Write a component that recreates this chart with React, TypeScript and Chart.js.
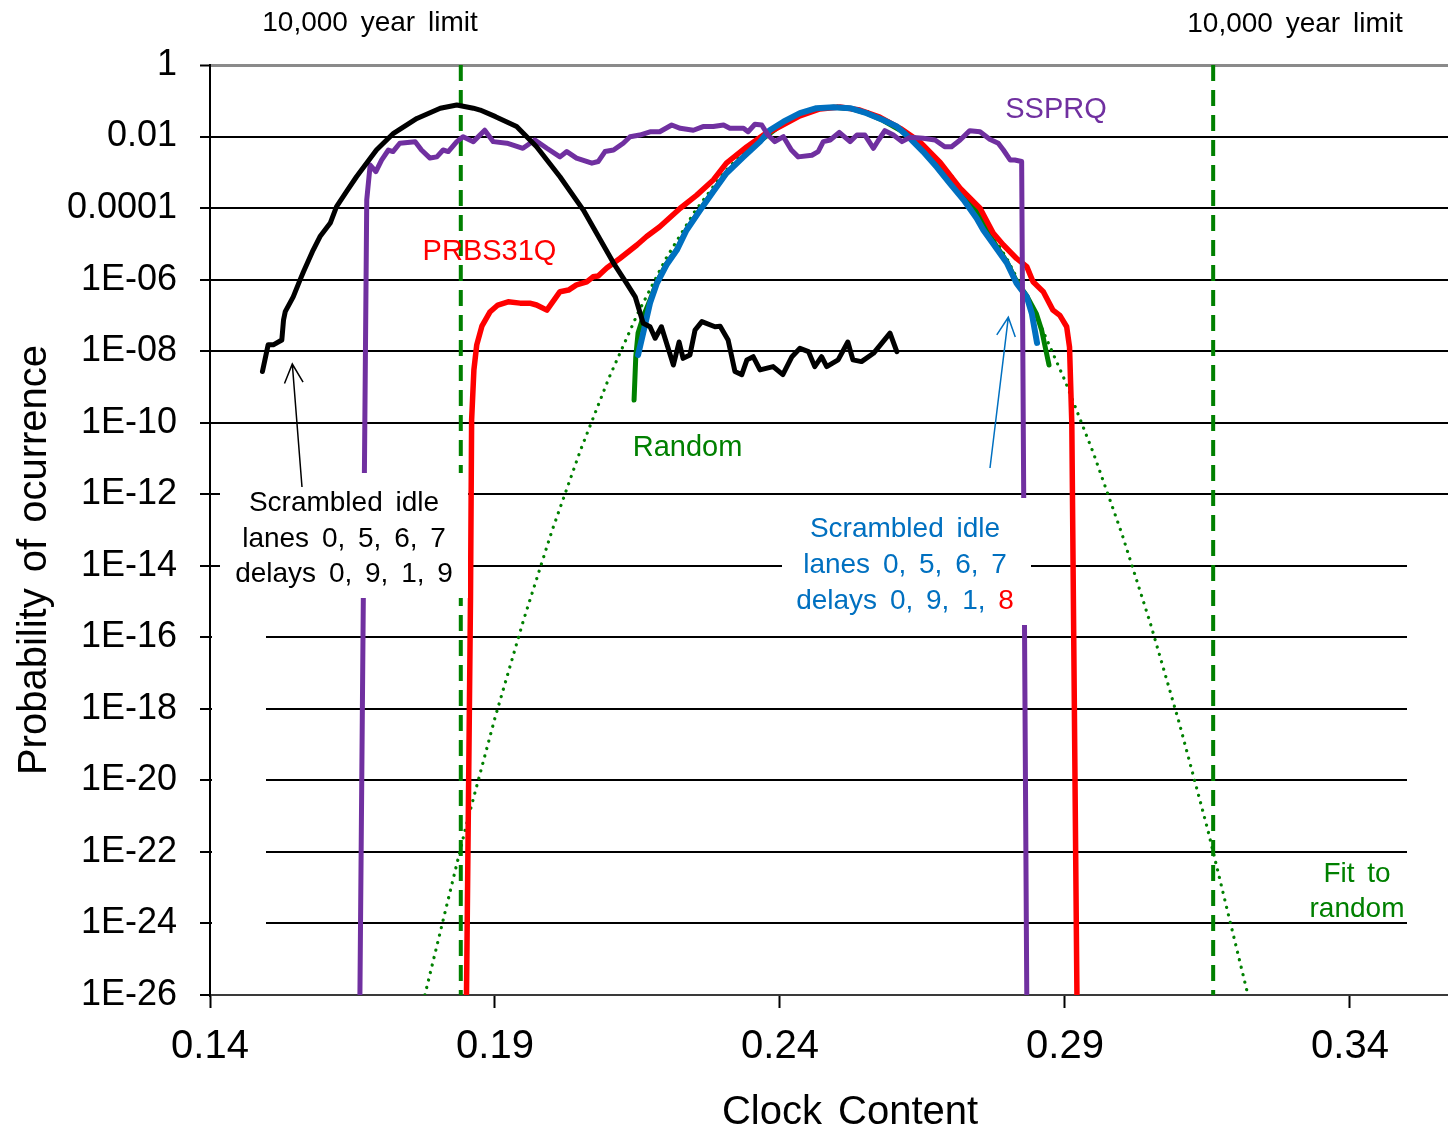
import React, { useEffect, useRef } from "react";
import { Chart, registerables } from "chart.js";

Chart.register(...registerables);

const FONT = '"Liberation Sans", Arial, Helvetica, sans-serif';

// ---- axis ticks ----
const xTicks = [0.14, 0.19, 0.24, 0.29, 0.34];
const xTickLabels = ["0.14", "0.19", "0.24", "0.29", "0.34"];
const yTicks = [1, 1e-2, 1e-4, 1e-6, 1e-8, 1e-10, 1e-12, 1e-14, 1e-16, 1e-18, 1e-20, 1e-22, 1e-24, 1e-26];
const yTickLabels = ["1", "0.01", "0.0001", "1E-06", "1E-08", "1E-10", "1E-12", "1E-14", "1E-16", "1E-18", "1E-20", "1E-22", "1E-24", "1E-26"];

// ---- Scrambled idle lanes 0,5,6,7 delays 0,9,1,9 (black) ----
const idle9X = [0.1492, 0.1502, 0.1511, 0.1526, 0.1529, 0.1532, 0.1546, 0.1558, 0.1564, 0.1581, 0.1593, 0.1611, 0.1622, 0.1640, 0.1657, 0.1692, 0.1722, 0.1763, 0.1804, 0.1833, 0.1862, 0.1874, 0.1901, 0.1938, 0.1973, 0.2014, 0.2055, 0.2078, 0.2108, 0.2131, 0.2146, 0.2160, 0.2172, 0.2181, 0.2192, 0.2213, 0.2223, 0.2230, 0.2242, 0.2251, 0.2263, 0.2286, 0.2295, 0.2309, 0.2321, 0.2333, 0.2342, 0.2353, 0.2365, 0.2388, 0.2405, 0.2421, 0.2435, 0.2450, 0.2461, 0.2473, 0.2482, 0.2502, 0.2519, 0.2528, 0.2543, 0.2564, 0.2593, 0.2605];
const idle9Y = [2.7e-9, 1.5e-8, 1.5e-8, 2.05e-8, 7.4e-8, 1.27e-7, 3.3e-7, 9.8e-7, 1.66e-6, 6.7e-6, 1.6e-5, 3.8e-5, 1.1e-4, 3.0e-4, 7.5e-4, 4.2e-3, 1.23e-2, 3.2e-2, 6.2e-2, 7.6e-2, 6.2e-2, 5.5e-2, 3.6e-2, 1.9e-2, 5.2e-3, 7.5e-4, 8.8e-5, 2.0e-5, 2.9e-6, 7.9e-7, 3.3e-7, 6.0e-8, 4.8e-8, 2.3e-8, 4.8e-8, 4.1e-9, 1.8e-8, 6.3e-9, 7.8e-9, 3.9e-8, 6.7e-8, 4.8e-8, 5.0e-8, 2.05e-8, 2.7e-9, 2.2e-9, 5.7e-9, 7.0e-9, 3.0e-9, 3.7e-9, 2.2e-9, 7.0e-9, 1.2e-8, 9.7e-9, 3.7e-9, 7.0e-9, 3.7e-9, 5.7e-9, 1.8e-8, 5.7e-9, 5.1e-9, 8.7e-9, 3.2e-8, 9.7e-9];

// ---- SSPRQ (purple) ----
const ssprqX = [0.1663, 0.1675, 0.1681, 0.1691, 0.1701, 0.1713, 0.1721, 0.1733, 0.1760, 0.1771, 0.1786, 0.1798, 0.1809, 0.1818, 0.1833, 0.1844, 0.1862, 0.1882, 0.1897, 0.1921, 0.1949, 0.1970, 0.1991, 0.2014, 0.2026, 0.2043, 0.2070, 0.2081, 0.2093, 0.2108, 0.2125, 0.2137, 0.2154, 0.2172, 0.2189, 0.2210, 0.2225, 0.2248, 0.2265, 0.2283, 0.2301, 0.2312, 0.2336, 0.2344, 0.2356, 0.2368, 0.2379, 0.2391, 0.2406, 0.2420, 0.2432, 0.2456, 0.2467, 0.2476, 0.2488, 0.2504, 0.2523, 0.2535, 0.2549, 0.2564, 0.2573, 0.2584, 0.2599, 0.2614, 0.2628, 0.2651, 0.2672, 0.2689, 0.2701, 0.2716, 0.2733, 0.2751, 0.2768, 0.2783, 0.2792, 0.2804, 0.2812, 0.2824, 0.2833];
const ssprqY = [1e-26, 1.7e-4, 1.6e-3, 1.04e-3, 2.2e-3, 4.2e-3, 3.8e-3, 6.5e-3, 7.2e-3, 4.2e-3, 2.5e-3, 2.7e-3, 4.2e-3, 3.8e-3, 7.2e-3, 9.9e-3, 7.2e-3, 1.5e-2, 7.2e-3, 6.5e-3, 4.7e-3, 8.0e-3, 4.7e-3, 2.7e-3, 3.8e-3, 2.5e-3, 1.8e-3, 2.0e-3, 3.8e-3, 4.2e-3, 6.5e-3, 9.9e-3, 1.1e-2, 1.36e-2, 1.36e-2, 2.1e-2, 1.7e-2, 1.5e-2, 1.9e-2, 1.9e-2, 2.1e-2, 1.7e-2, 1.7e-2, 1.36e-2, 2.2e-2, 2.1e-2, 1.1e-2, 7.2e-3, 9.9e-3, 4.2e-3, 2.7e-3, 3.0e-3, 3.8e-3, 7.2e-3, 8.0e-3, 1.3e-2, 7.2e-3, 1.1e-2, 1.1e-2, 4.7e-3, 8.0e-3, 1.46e-2, 1.1e-2, 7.2e-3, 9.5e-3, 8.9e-3, 8.0e-3, 5.2e-3, 5.2e-3, 8.0e-3, 1.46e-2, 1.36e-2, 8.4e-3, 6.5e-3, 4.2e-3, 2.2e-3, 2.2e-3, 2.0e-3, 1e-26];

// ---- PRBS31Q (red) ----
const prbsX = [0.1850, 0.1857, 0.1859, 0.1863, 0.1868, 0.1877, 0.1891, 0.1905, 0.1923, 0.1944, 0.1961, 0.1973, 0.1991, 0.2014, 0.2029, 0.2043, 0.2061, 0.2072, 0.2081, 0.2096, 0.2119, 0.2149, 0.2166, 0.2189, 0.2225, 0.2254, 0.2283, 0.2306, 0.2342, 0.2371, 0.2400, 0.2435, 0.2470, 0.2505, 0.2540, 0.2575, 0.2611, 0.2646, 0.2681, 0.2716, 0.2751, 0.2774, 0.2792, 0.2815, 0.2833, 0.2844, 0.2862, 0.2879, 0.2891, 0.2903, 0.2908, 0.2912, 0.2921];
const prbsY = [1e-26, 1.1e-15, 1.2e-10, 3.0e-9, 1.5e-8, 5.0e-8, 1.24e-7, 1.95e-7, 2.4e-7, 2.2e-7, 2.2e-7, 1.95e-7, 1.4e-7, 4.6e-7, 5.1e-7, 7.1e-7, 8.7e-7, 1.2e-6, 1.26e-6, 2.1e-6, 3.9e-6, 9.3e-6, 1.6e-5, 3.0e-5, 9.9e-5, 2.3e-4, 6.1e-4, 1.8e-3, 5.2e-3, 1.1e-2, 1.9e-2, 3.8e-2, 5.9e-2, 6.7e-2, 5.5e-2, 3.5e-2, 1.7e-2, 7.0e-3, 1.9e-3, 3.6e-4, 9.9e-5, 2.0e-5, 9.3e-6, 3.9e-6, 2.3e-6, 8.7e-7, 4.6e-7, 1.4e-7, 1.0e-7, 4.8e-8, 1.3e-8, 9.6e-11, 1e-26];

// ---- Scrambled idle lanes 0,5,6,7 delays 0,9,1,8 (blue) ----
const idle8X = [0.2151, 0.2160, 0.2172, 0.2184, 0.2201, 0.2219, 0.2236, 0.2260, 0.2283, 0.2306, 0.2336, 0.2365, 0.2382, 0.2406, 0.2435, 0.2464, 0.2494, 0.2523, 0.2552, 0.2581, 0.2605, 0.2628, 0.2651, 0.2675, 0.2698, 0.2722, 0.2745, 0.2757, 0.2774, 0.2798, 0.2815, 0.2833, 0.2842, 0.2851];
const idle8Y = [7.8e-9, 3.2e-8, 2.2e-7, 7.9e-7, 2.6e-6, 6.7e-6, 2.4e-5, 8.8e-5, 2.9e-4, 9.4e-4, 2.7e-3, 7.2e-3, 1.5e-2, 2.6e-2, 4.5e-2, 6.2e-2, 6.6e-2, 6.2e-2, 4.5e-2, 2.9e-2, 1.9e-2, 8.9e-3, 3.8e-3, 1.4e-3, 4.9e-4, 1.7e-4, 5.2e-5, 2.4e-5, 1.0e-5, 2.9e-6, 7.9e-7, 3.3e-7, 1.1e-7, 1.7e-8];

// ---- Random (green) ----
const randomX = [0.2144, 0.2147, 0.2151, 0.2160, 0.2172, 0.2184, 0.2201, 0.2219, 0.2236, 0.2260, 0.2283, 0.2306, 0.2336, 0.2365, 0.2400, 0.2435, 0.2464, 0.2494, 0.2523, 0.2552, 0.2581, 0.2611, 0.2646, 0.2681, 0.2716, 0.2751, 0.2774, 0.2798, 0.2815, 0.2833, 0.2850, 0.2859, 0.2872];
const randomY = [4.3e-10, 7.0e-9, 3.2e-8, 9.2e-8, 2.7e-7, 8.5e-7, 2.8e-6, 7.0e-6, 2.5e-5, 9.0e-5, 3.0e-4, 9.6e-4, 2.8e-3, 7.5e-3, 2.0e-2, 4.4e-2, 6.1e-2, 6.6e-2, 6.1e-2, 4.5e-2, 2.8e-2, 1.5e-2, 6.0e-3, 1.7e-3, 3.3e-4, 6.0e-5, 1.2e-5, 3.2e-6, 9.0e-7, 3.5e-7, 1.1e-7, 3.9e-8, 4.1e-9];

// ---- Fit to random (green dotted) ----
const fitX = [0.1777, 0.185, 0.19, 0.195, 0.20, 0.205, 0.21, 0.215, 0.22, 0.225, 0.23, 0.235, 0.24, 0.245, 0.25, 0.255, 0.26, 0.265, 0.27, 0.275, 0.28, 0.285, 0.29, 0.295, 0.30, 0.305, 0.31, 0.315, 0.3221];
const fitY = [1e-26, 5.9e-22, 5.6e-19, 3.0e-16, 9.5e-14, 1.7e-11, 1.8e-9, 1.1e-7, 3.9e-6, 7.8e-5, 9.2e-4, 6.2e-3, 2.4e-2, 5.4e-2, 7.1e-2, 5.3e-2, 2.3e-2, 5.8e-3, 8.4e-4, 7.0e-5, 3.4e-6, 9.5e-8, 1.5e-9, 1.4e-11, 7.7e-14, 2.4e-16, 4.3e-19, 4.5e-22, 1e-26];

// ---- 10,000 year limit (green dashed) ----
const limitX = [0.184, 0.316];
const limitY = [1, 1e-26];

const BLACK = "#000000";
const PURPLE = "#7030A0";
const RED = "#FF0000";
const BLUE = "#0070C0";
const GREEN = "#008000";

const zip = (xs: number[], ys: number[]) => xs.map((x, i) => ({ x, y: ys[i] }));

function drawArrow(ctx: CanvasRenderingContext2D, x0: number, y0: number, x1: number, y1: number, color: string) {
  ctx.save();
  ctx.strokeStyle = color;
  ctx.lineWidth = 1.5;
  ctx.beginPath();
  ctx.moveTo(x0, y0);
  ctx.lineTo(x1, y1);
  const ang = Math.atan2(y0 - y1, x0 - x1);
  const L = 21;
  const a = 0.46;
  ctx.moveTo(x1 + L * Math.cos(ang - a), y1 + L * Math.sin(ang - a));
  ctx.lineTo(x1, y1);
  ctx.lineTo(x1 + L * Math.cos(ang + a), y1 + L * Math.sin(ang + a));
  ctx.stroke();
  ctx.restore();
}

function text(ctx: CanvasRenderingContext2D, s: string, x: number, y: number, color: string, size = 28, align: CanvasTextAlign = "center") {
  ctx.font = `${size}px ${FONT}`;
  (ctx as any).wordSpacing = "5px";
  ctx.fillStyle = color;
  ctx.textAlign = align;
  ctx.textBaseline = "alphabetic";
  ctx.fillText(s, x, y);
}

const annotations = {
  id: "annotations",
  beforeDatasetsDraw(chart: any) {
    const ctx: CanvasRenderingContext2D = chart.ctx;
    const a = chart.chartArea;
    ctx.save();
    ctx.fillStyle = "#ffffff";
    // gridline gaps of the original sheet
    ctx.fillRect(a.left + 2, 600, 266 - a.left - 2, a.bottom - 3 - 600);
    ctx.fillRect(1407, 530, a.right - 1407, a.bottom - 3 - 530);
    ctx.restore();
  },
  afterDraw(chart: any) {
    const ctx: CanvasRenderingContext2D = chart.ctx;
    ctx.save();
    // text box backgrounds
    ctx.fillStyle = "#ffffff";
    ctx.fillRect(220, 473, 248, 125);
    ctx.fillRect(782, 498, 249, 127);

    drawArrow(ctx, 302, 487, 292.3, 364, BLACK);
    drawArrow(ctx, 990, 468, 1008.3, 317.3, BLUE);

    text(ctx, "10,000 year limit", 370, 31, BLACK, 28);
    text(ctx, "10,000 year limit", 1295, 32, BLACK, 28);
    text(ctx, "SSPRQ", 1056, 118, PURPLE, 29);
    text(ctx, "PRBS31Q", 489.5, 260, RED, 29);
    text(ctx, "Random", 687.5, 456, GREEN, 29);

    text(ctx, "Scrambled idle", 344, 511, BLACK, 28);
    text(ctx, "lanes 0, 5, 6, 7", 344, 547, BLACK, 28);
    text(ctx, "delays 0, 9, 1, 9", 344, 582, BLACK, 28);

    text(ctx, "Scrambled idle", 905, 537, BLUE, 28);
    text(ctx, "lanes 0, 5, 6, 7", 905, 573, BLUE, 28);
    {
      ctx.font = `28px ${FONT}`;
      (ctx as any).wordSpacing = "5px";
      const full = "delays 0, 9, 1, 8";
      const part = "delays 0, 9, 1, ";
      const w = ctx.measureText(full).width;
      const x0 = 905 - w / 2;
      text(ctx, part, x0, 609, BLUE, 28, "left");
      const pw = ctx.measureText(part).width;
      text(ctx, "8", x0 + pw, 609, RED, 28, "left");
    }

    text(ctx, "Fit to", 1357, 882, GREEN, 28);
    text(ctx, "random", 1357, 917, GREEN, 28);

    // axis titles
    text(ctx, "Clock Content", 850, 1124, BLACK, 40);
    ctx.save();
    ctx.translate(46, 560);
    ctx.rotate(-Math.PI / 2);
    text(ctx, "Probability of ocurrence", 0, 0, BLACK, 40);
    ctx.restore();

    ctx.restore();
  },
};

const lineDefaults = {
  pointRadius: 0,
  pointHoverRadius: 0,
  fill: false,
  tension: 0,
  borderCapStyle: "round" as const,
  borderJoinStyle: "round" as const,
};

export default function App() {
  const ref = useRef<HTMLCanvasElement>(null);

  useEffect(() => {
    document.body.style.margin = "0";
    const canvas = ref.current;
    if (!canvas) return;
    const chart = new Chart(canvas, {
      type: "line",
      data: {
        datasets: [
          { ...lineDefaults, label: "Scrambled idle lanes 0, 5, 6, 7 delays 0, 9, 1, 9", data: zip(idle9X, idle9Y), borderColor: BLACK, borderWidth: 5 },
          { ...lineDefaults, label: "SSPRQ", data: zip(ssprqX, ssprqY), borderColor: PURPLE, borderWidth: 5 },
          { ...lineDefaults, label: "Scrambled idle lanes 0, 5, 6, 7 delays 0, 9, 1, 8", data: zip(idle8X, idle8Y), borderColor: BLUE, borderWidth: 6 },
          { ...lineDefaults, label: "PRBS31Q", data: zip(prbsX, prbsY), borderColor: RED, borderWidth: 5.5 },
          { ...lineDefaults, label: "Random", data: zip(randomX, randomY), borderColor: GREEN, borderWidth: 5 },
          { ...lineDefaults, label: "Fit to random", data: zip(fitX, fitY), borderColor: GREEN, borderWidth: 3.2, borderDash: [0.1, 7.6] },
          { ...lineDefaults, borderCapStyle: "butt" as const, label: "10,000 year limit", data: zip([limitX[0], limitX[0]], limitY), borderColor: GREEN, borderWidth: 4, borderDash: [16, 9] },
          { ...lineDefaults, borderCapStyle: "butt" as const, label: "10,000 year limit ", data: zip([limitX[1], limitX[1]], limitY), borderColor: GREEN, borderWidth: 4, borderDash: [16, 9] },
        ],
      },
      options: {
        responsive: false,
        animation: false,
        events: [],
        layout: { padding: { top: 65, right: 0, left: 0, bottom: 0 } },
        plugins: { legend: { display: false }, tooltip: { enabled: false }, title: { display: false } },
        scales: {
          x: {
            type: "linear",
            min: 0.14,
            max: 0.3572,
            afterBuildTicks: (s: any) => {
              s.ticks = xTicks.map((v) => ({ value: v }));
            },
            afterFit: (s: any) => {
              s.height = 133;
            },
            ticks: {
              autoSkip: false,
              maxRotation: 0,
              minRotation: 0,
              padding: 15,
              color: BLACK,
              font: { family: FONT, size: 40 },
              callback: (_v: any, i: number) => xTickLabels[i],
            },
            grid: { drawOnChartArea: false, drawTicks: true, tickLength: 13, tickWidth: 2, tickColor: BLACK },
            border: { display: true, color: "#3a3a3a", width: 2 },
          },
          y: {
            type: "logarithmic",
            min: 1e-26,
            max: 1,
            afterBuildTicks: (s: any) => {
              s.ticks = yTicks.map((v) => ({ value: v }));
            },
            afterFit: (s: any) => {
              s.width = 210;
            },
            ticks: {
              autoSkip: false,
              padding: 23,
              color: BLACK,
              font: { family: FONT, size: 36 },
              callback: (_v: any, i: number) => yTickLabels[i],
            },
            grid: {
              color: (c: any) => (c.tick && c.tick.value === 1 ? "#8a8a8a" : BLACK),
              lineWidth: (c: any) => (c.tick && c.tick.value === 1 ? 3 : 2),
              tickLength: 10,
              tickWidth: 2,
              tickColor: BLACK,
            },
            border: { display: true, color: BLACK, width: 2 },
          },
        },
      } as any,
      plugins: [annotations],
    });
    return () => chart.destroy();
  }, []);

  return <canvas ref={ref} width={1448} height={1128} style={{ display: "block" }} />;
}
